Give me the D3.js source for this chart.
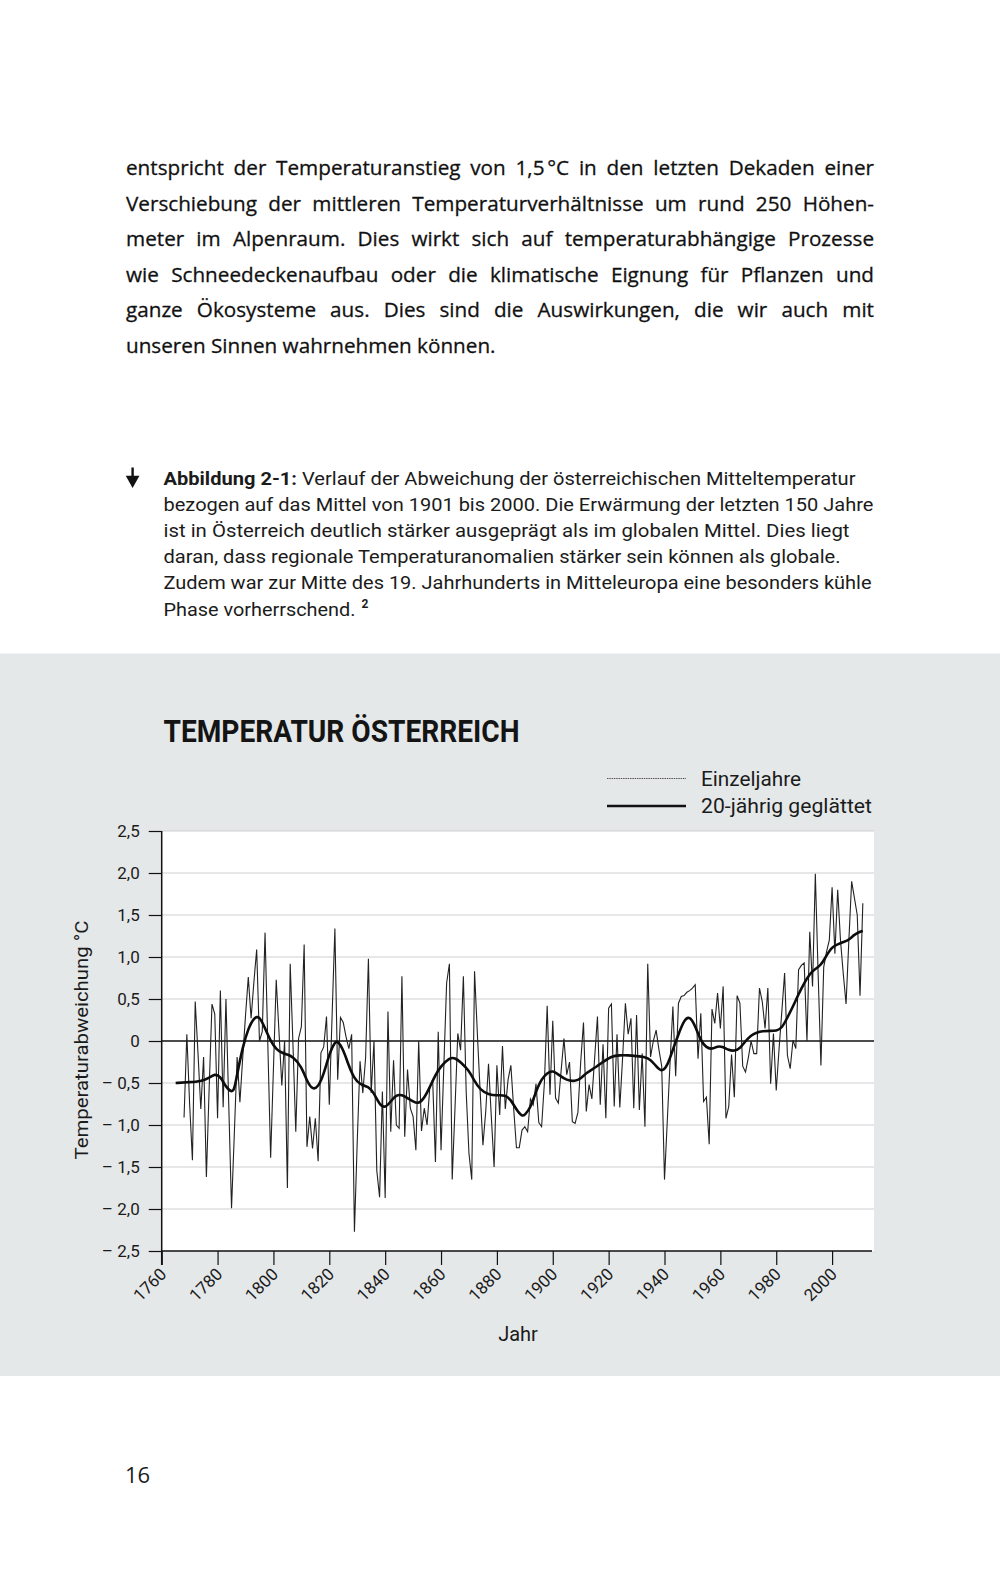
<!DOCTYPE html>
<html><head><meta charset="utf-8">
<script src="https://cdn.jsdelivr.net/npm/d3@7/dist/d3.min.js"></script>
<style>
html,body{margin:0;padding:0;background:#fff;}
svg{display:block;}
</style></head><body>
<script>
// ---------- texts ----------
const bodyLines = [
  "entspricht der Temperaturanstieg von 1,5\u202F°C in den letzten Dekaden einer",
  "Verschiebung der mittleren Temperaturverhältnisse um rund 250 Höhen-",
  "meter im Alpenraum. Dies wirkt sich auf temperaturabhängige Prozesse",
  "wie Schneedeckenaufbau oder die klimatische Eignung für Pflanzen und",
  "ganze Ökosysteme aus. Dies sind die Auswirkungen, die wir auch mit",
  "unseren Sinnen wahrnehmen können."
];
const captionBold = "Abbildung 2-1:";
const captionLines = [
  " Verlauf der Abweichung der österreichischen Mitteltemperatur",
  "bezogen auf das Mittel von 1901 bis 2000. Die Erwärmung der letzten 150 Jahre",
  "ist in Österreich deutlich stärker ausgeprägt als im globalen Mittel. Dies liegt",
  "daran, dass regionale Temperaturanomalien stärker sein können als globale.",
  "Zudem war zur Mitte des 19. Jahrhunderts in Mitteleuropa eine besonders kühle",
  "Phase vorherrschend."
];
const captionWidths = [692, 710, 686, 677, 708, 192];
const footnoteMark = "2";
const chartTitle = "TEMPERATUR ÖSTERREICH";
const legendLabels = ["Einzeljahre", "20-jährig geglättet"];
const yAxisTitle = "Temperaturabweichung °C";
const xAxisTitle = "Jahr";
const pageNumber = "16";

// ---------- axes ----------
const yTicks = [-2.5, -2.0, -1.5, -1.0, -0.5, 0, 0.5, 1.0, 1.5, 2.0, 2.5];
const yTickLabels = ["– 2,5", "– 2,0", "– 1,5", "– 1,0", "– 0,5", "0", "0,5", "1,0", "1,5", "2,0", "2,5"];
const xTicks = [1760, 1780, 1800, 1820, 1840, 1860, 1880, 1900, 1920, 1940, 1960, 1980, 2000];
const xTickLabels = ["1760", "1780", "1800", "1820", "1840", "1860", "1880", "1900", "1920", "1940", "1960", "1980", "2000"];

// ---------- data: annual anomalies (°C), 1768–2011 ----------
const annualFirstYear = 1768;
const annual1760s = [-0.91, 0.08];
const annual1770s = [-0.75, -1.42, 0.47, -0.15, -0.81, -0.19, -1.62, -0.55, 0.44, 0.32];
const annual1780s = [-0.92, 0.6, -0.79, 0.5, -0.75, -1.99, -1.1, -0.19, -0.73, -0.2];
const annual1790s = [0.3, 0.76, 0.27, 0.7, 1.09, 0.0, 0.11, 1.29, -0.05, -1.39];
const annual1800s = [-0.33, 0.73, 0.1, -0.53, 0.0, -1.75, 0.92, -0.05, -1.08, 0.03];
const annual1810s = [0.17, 1.15, -1.26, -0.9, -1.28, -0.92, -1.43, -0.14, -0.07, 0.29];
const annual1820s = [-0.76, 0.3, 1.34, -0.46, 0.28, 0.22, 0.05, -0.09, 0.08, -2.27];
const annual1830s = [-1.2, -0.24, -0.62, -0.2, 0.98, -0.62, 0.0, -1.54, -1.86, -0.6];
const annual1840s = [-1.87, 0.35, -1.08, -0.23, -1.0, -1.04, 0.77, -1.14, -0.34, -0.8];
const annual1850s = [-0.9, -1.3, 0.0, -1.07, -0.8, -1.0, -0.54, -0.46, -1.44, 0.11];
const annual1860s = [-1.3, -0.3, 0.69, 0.92, -1.65, -0.8, 0.09, -0.11, 0.77, -0.6];
const annual1870s = [-1.34, -1.65, 0.83, 0.09, -0.6, -1.24, -0.84, -0.27, -0.9, -1.5];
const annual1880s = [-0.29, -0.88, -0.06, -0.81, -0.46, -0.29, -0.8, -1.27, -1.27, -1.06];
const annual1890s = [-1.02, -1.08, -0.69, -0.76, -0.51, -0.97, -1.02, -0.5, 0.42, -0.64];
const annual1900s = [0.24, -0.68, -0.74, -0.35, 0.03, -0.4, -0.25, -0.96, -0.98, -0.85];
const annual1910s = [-0.25, 0.22, -0.84, -0.52, -0.69, -0.2, 0.29, -0.76, -0.04, -0.92];
const annual1920s = [0.39, 0.44, -0.78, 0.08, -0.79, -0.2, 0.45, 0.08, 0.27, -0.8];
const annual1930s = [0.31, -0.82, -0.15, -1.02, 0.92, -0.19, 0.0, 0.13, -0.1, -0.3];
const annual1940s = [-1.65, -0.95, -0.25, 0.41, -0.42, 0.45, 0.53, 0.54, 0.58, 0.6];
const annual1950s = [0.63, 0.67, -0.21, 0.33, -0.72, -0.67, -1.23, 0.38, 0.21, 0.57];
const annual1960s = [0.15, 0.65, -0.92, -0.78, -0.16, -0.67, 0.54, 0.45, -0.3, -0.37];
const annual1970s = [-0.2, 0.0, -0.15, -0.15, 0.63, 0.47, 0.15, 0.63, -0.51, 0.09];
const annual1980s = [-0.59, -0.1, 0.35, 0.81, -0.17, -0.33, 0.01, -0.09, 0.85, 0.9];
const annual1990s = [0.93, 0.0, 1.3, 0.65, 1.99, 0.8, -0.29, 0.88, 1.06, 1.2];
const annual2000s = [1.83, 1.04, 1.8, 1.2, 0.8, 0.44, 1.2, 1.9, 1.7, 1.5];
const annual2010s = [0.54, 1.64];

// ---------- data: 20-year smoothed (read at marked years) ----------
const smoothYears = [1765,1770,1774,1777,1779,1781,1783,1785,1786,1787,1789,1791,1793,1795,1797,1799,1801,1803,1805,1807,1810,1812,1814,1816,1818,1820,1822,1823,1825,1827,1829,1831,1834,1836,1838,1840,1842,1844,1846,1848,1850,1852,1854,1856,1858,1860,1863,1865,1867,1870,1872,1874,1877,1880,1883,1885,1887,1889,1890,1892,1894,1896,1898,1900,1902,1905,1908,1910,1912,1915,1918,1921,1924,1927,1930,1933,1935,1937,1939,1941,1943,1945,1947,1949,1951,1953,1955,1957,1959,1961,1963,1965,1967,1969,1971,1973,1975,1978,1980,1982,1984,1986,1988,1990,1992,1994,1996,1998,2000,2002,2004,2006,2008,2010,2011];
const smoothValues = [-0.5,-0.49,-0.48,-0.44,-0.39,-0.42,-0.55,-0.61,-0.58,-0.4,-0.07,0.15,0.28,0.3,0.15,0.0,-0.1,-0.14,-0.16,-0.19,-0.3,-0.48,-0.58,-0.55,-0.4,-0.15,-0.01,0.0,-0.1,-0.3,-0.45,-0.52,-0.54,-0.62,-0.76,-0.8,-0.72,-0.64,-0.64,-0.68,-0.72,-0.75,-0.68,-0.55,-0.4,-0.3,-0.2,-0.2,-0.25,-0.35,-0.48,-0.58,-0.64,-0.65,-0.64,-0.7,-0.82,-0.9,-0.88,-0.8,-0.6,-0.45,-0.38,-0.35,-0.4,-0.47,-0.48,-0.45,-0.38,-0.32,-0.25,-0.18,-0.17,-0.17,-0.18,-0.19,-0.22,-0.3,-0.37,-0.3,-0.1,0.08,0.25,0.3,0.18,0.0,-0.08,-0.1,-0.06,-0.07,-0.11,-0.12,-0.09,0.0,0.07,0.1,0.12,0.12,0.12,0.15,0.28,0.41,0.56,0.69,0.8,0.86,0.9,1.02,1.12,1.15,1.18,1.2,1.27,1.3,1.31];

const annualValues = [].concat(annual1760s, annual1770s, annual1780s, annual1790s, annual1800s, annual1810s,
  annual1820s, annual1830s, annual1840s, annual1850s, annual1860s, annual1870s, annual1880s, annual1890s,
  annual1900s, annual1910s, annual1920s, annual1930s, annual1940s, annual1950s, annual1960s, annual1970s,
  annual1980s, annual1990s, annual2000s, annual2010s);
const annual = annualValues.map((v, i) => ({year: annualFirstYear + i, value: v}));
const smooth = smoothYears.map((y, i) => ({year: y, value: smoothValues[i]}));

// ---------- drawing ----------
const W = 1000, H = 1593;
const bodyFont = "'Open Sans', 'Noto Sans', sans-serif";
const dinFont = "Roboto, 'DejaVu Sans', sans-serif";
const ink = "#1b1b1b";

const svg = d3.select("body").append("svg").attr("width", W).attr("height", H);
svg.append("rect").attr("width", W).attr("height", H).attr("fill", "#ffffff");

// body paragraph (justified)
const bodyLeft = 126, bodyRight = 874, bodyTop = 175, bodyLead = 35.5, bodySize = 20.7;
const measure = svg.append("text").attr("font-family", bodyFont).attr("font-size", bodySize).attr("opacity", 0);
function textW(s) { measure.text(s); return measure.node().getComputedTextLength(); }
const spaceW = textW("a a") - textW("aa");
bodyLines.forEach((line, i) => {
  const t = svg.append("text").attr("y", bodyTop + i * bodyLead)
    .attr("font-family", bodyFont).attr("font-size", bodySize).attr("fill", "#111")
    .attr("stroke", "#111").attr("stroke-width", 0.3);
  const words = line.split(" ");
  const spans = words.map(w => t.append("tspan").text(w));
  const widths = spans.map(s => s.node().getComputedTextLength());
  const last = i === bodyLines.length - 1;
  const gap = last ? spaceW : Math.max(spaceW * 0.6, (bodyRight - bodyLeft - d3.sum(widths)) / (words.length - 1));
  let x = bodyLeft;
  spans.forEach((s, j) => { s.attr("x", x); x += widths[j] + gap; });
});
measure.remove();

// caption
const capLeft = 163.5, capTop = 484.5, capLead = 26.2;
svg.append("path")
  .attr("d", "M132.6,467.5 L132.6,478.5 M127.8,477 L137.4,477 L132.6,485.5 Z")
  .attr("stroke", "#111").attr("stroke-width", 2.4).attr("fill", "#111").attr("stroke-linejoin", "miter");
captionLines.forEach((line, i) => {
  const t = svg.append("text").attr("x", capLeft).attr("y", capTop + i * capLead)
    .attr("font-family", dinFont).attr("font-size", 19).attr("fill", ink)
    .attr("textLength", captionWidths[i]).attr("lengthAdjust", "spacingAndGlyphs");
  if (i === 0) t.append("tspan").attr("font-weight", "bold").text(captionBold);
  t.append("tspan").text(line);
});
svg.append("text").attr("x", capLeft + captionWidths[5] + 6).attr("y", capTop + 5 * capLead - 8)
  .attr("font-family", dinFont).attr("font-size", 12).attr("font-weight", "bold").attr("fill", ink).text(footnoteMark);

// grey panel
svg.append("rect").attr("x", 0).attr("y", 653.5).attr("width", W).attr("height", 722.5).attr("fill", "#e5e8e9");

// title
svg.append("text").attr("x", 163.5).attr("y", 742).attr("font-family", dinFont).attr("font-weight", "bold")
  .attr("font-size", 32).attr("fill", "#141414").attr("textLength", 356).attr("lengthAdjust", "spacingAndGlyphs")
  .text(chartTitle);

// scales
const x = d3.scaleLinear().domain([1760, 2015]).range([161.7, 874]);
const y = d3.scaleLinear().domain([-2.5, 2.5]).range([1251, 831]);

// plot background
svg.append("rect").attr("x", x(1760)).attr("y", y(2.5)).attr("width", x(2015) - x(1760)).attr("height", y(-2.5) - y(2.5)).attr("fill", "#ffffff");

// grid
svg.append("g").selectAll("line").data(yTicks.filter(v => v !== 0 && v !== -2.5)).join("line")
  .attr("x1", x(1760)).attr("x2", x(2015)).attr("y1", d => y(d)).attr("y2", d => y(d))
  .attr("stroke", "#cdcfd0").attr("stroke-width", 1);

// y axis
const yAxis = d3.axisLeft(y).tickValues(yTicks).tickSize(13).tickPadding(9)
  .tickFormat((d, i) => yTickLabels[i]);
const gy = svg.append("g").attr("transform", `translate(${x(1760)},0)`).call(yAxis);
gy.select(".domain").remove();
gy.selectAll(".tick line").attr("stroke", "#111").attr("stroke-width", 1.2);
gy.selectAll(".tick text").attr("font-family", dinFont).attr("font-size", 17).attr("fill", ink);
svg.append("line").attr("x1", x(1760)).attr("x2", x(1760)).attr("y1", y(2.5)).attr("y2", y(-2.5) + 14)
  .attr("stroke", "#111").attr("stroke-width", 1.5);

// zero line
svg.append("line").attr("x1", x(1760)).attr("x2", x(2015)).attr("y1", y(0)).attr("y2", y(0))
  .attr("stroke", "#111").attr("stroke-width", 1.3);

// x axis
const xAxis = d3.axisBottom(x).tickValues(xTicks).tickSize(14).tickPadding(6)
  .tickFormat((d, i) => xTickLabels[i]);
const gx = svg.append("g").attr("transform", `translate(0,${y(-2.5)})`).call(xAxis);
gx.select(".domain").remove();
gx.selectAll(".tick line").attr("stroke", "#111").attr("stroke-width", 1.2);
gx.selectAll(".tick text").attr("font-family", dinFont).attr("font-size", 17).attr("fill", ink)
  .attr("text-anchor", "end").attr("dy", "0.35em")
  .attr("transform", "translate(-13,6) rotate(-45)");
svg.append("line").attr("x1", x(1760)).attr("x2", 872).attr("y1", y(-2.5)).attr("y2", y(-2.5))
  .attr("stroke", "#111").attr("stroke-width", 1.5);

// annual line
svg.append("path").datum(annual)
  .attr("d", d3.line().x(d => x(d.year)).y(d => y(d.value)))
  .attr("fill", "none").attr("stroke", "#222").attr("stroke-width", 1.1).attr("stroke-linejoin", "miter");

// smoothed line
svg.append("path").datum(smooth)
  .attr("d", d3.line().x(d => x(d.year)).y(d => y(d.value)).curve(d3.curveBasis))
  .attr("fill", "none").attr("stroke", "#0d0d0d").attr("stroke-width", 2.6);

// legend
const lg = svg.append("g");
lg.append("line").attr("x1", 607).attr("x2", 686).attr("y1", 778.5).attr("y2", 778.5)
  .attr("stroke", "#555").attr("stroke-width", 1).attr("stroke-dasharray", "1.5,0.8");
lg.append("line").attr("x1", 607).attr("x2", 686).attr("y1", 806).attr("y2", 806)
  .attr("stroke", "#111").attr("stroke-width", 2.6);
lg.append("text").attr("x", 701).attr("y", 786).attr("font-family", dinFont).attr("font-size", 19.5).attr("fill", ink)
  .attr("textLength", 100).attr("lengthAdjust", "spacingAndGlyphs").text(legendLabels[0]);
lg.append("text").attr("x", 701).attr("y", 813).attr("font-family", dinFont).attr("font-size", 19.5).attr("fill", ink)
  .attr("textLength", 171).attr("lengthAdjust", "spacingAndGlyphs").text(legendLabels[1]);

// axis titles
svg.append("text").attr("transform", "translate(88,1040) rotate(-90)").attr("text-anchor", "middle")
  .attr("font-family", dinFont).attr("font-size", 19).attr("fill", ink)
  .attr("textLength", 239).attr("lengthAdjust", "spacingAndGlyphs").text(yAxisTitle);
svg.append("text").attr("x", 518).attr("y", 1341).attr("text-anchor", "middle")
  .attr("font-family", dinFont).attr("font-size", 20).attr("fill", ink).text(xAxisTitle);

// page number
svg.append("text").attr("x", 125).attr("y", 1483).attr("font-family", bodyFont).attr("font-size", 22)
  .attr("fill", ink).text(pageNumber);
</script>
</body></html>
